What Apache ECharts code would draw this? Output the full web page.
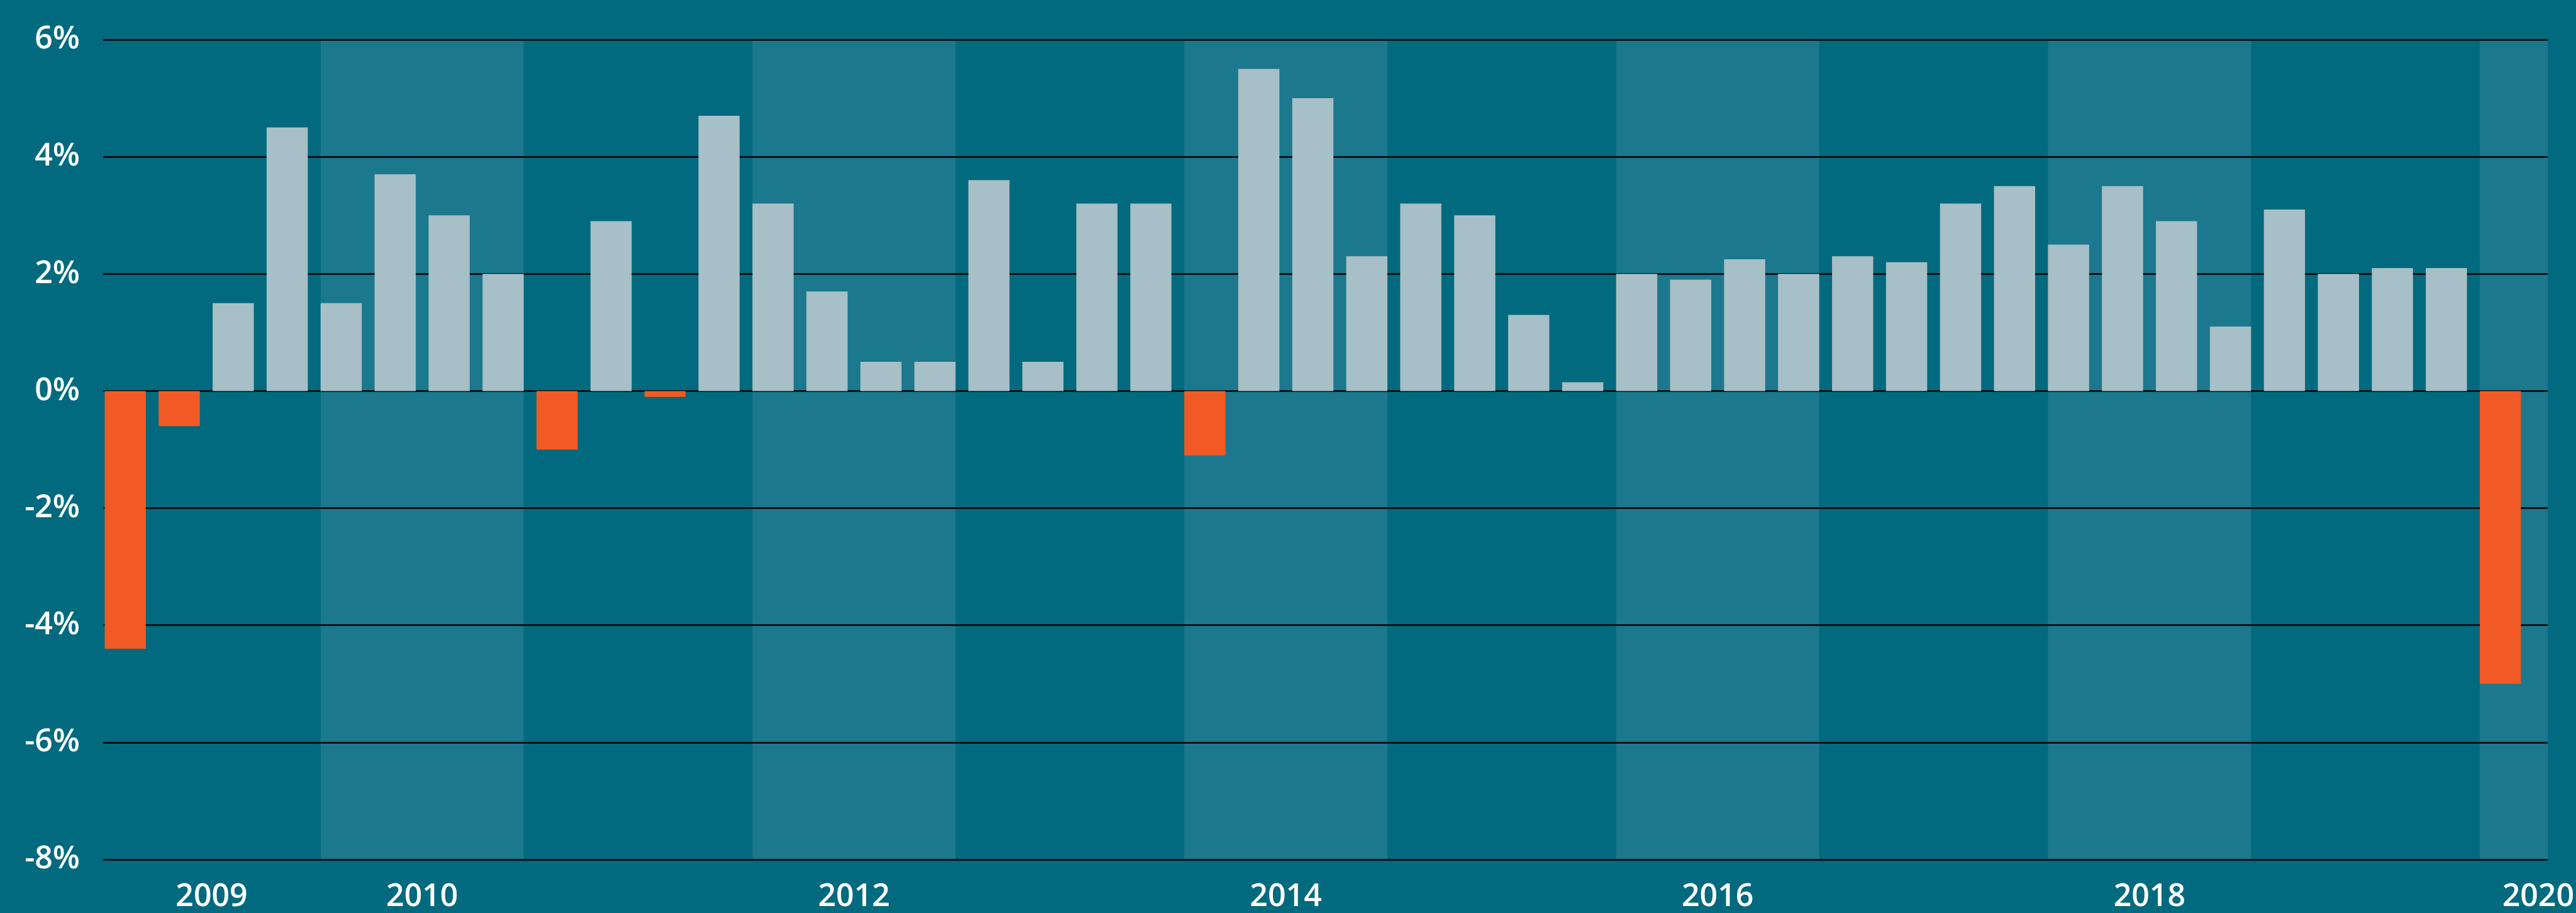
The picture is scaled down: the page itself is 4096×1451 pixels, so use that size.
<!DOCTYPE html>
<html>
<head>
<meta charset="utf-8">
<script src="https://cdn.jsdelivr.net/npm/echarts@6/dist/echarts.min.js"></script>
<style>
  html, body { margin: 0; padding: 0; background: #016a7e; }
  #chart { width: 4096px; height: 1451px; }
</style>
</head>
<body>
<div id="chart"></div>
<script>
// Quarterly growth, 2009 Q1 .. 2020 Q1 (annualized, %)
const quarters = [
  '2009 Q1', '2009 Q2', '2009 Q3', '2009 Q4',
  '2010 Q1', '2010 Q2', '2010 Q3', '2010 Q4',
  '2011 Q1', '2011 Q2', '2011 Q3', '2011 Q4',
  '2012 Q1', '2012 Q2', '2012 Q3', '2012 Q4',
  '2013 Q1', '2013 Q2', '2013 Q3', '2013 Q4',
  '2014 Q1', '2014 Q2', '2014 Q3', '2014 Q4',
  '2015 Q1', '2015 Q2', '2015 Q3', '2015 Q4',
  '2016 Q1', '2016 Q2', '2016 Q3', '2016 Q4',
  '2017 Q1', '2017 Q2', '2017 Q3', '2017 Q4',
  '2018 Q1', '2018 Q2', '2018 Q3', '2018 Q4',
  '2019 Q1', '2019 Q2', '2019 Q3', '2019 Q4',
  '2020 Q1'
]
const growth = [
  -4.4, -0.6, 1.5, 4.5,
  1.5, 3.7, 3.0, 2.0,
  -1.0, 2.9, -0.1, 4.7,
  3.2, 1.7, 0.5, 0.5,
  3.6, 0.5, 3.2, 3.2,
  -1.1, 5.5, 5.0, 2.3,
  3.2, 3.0, 1.3, 0.15,
  2.0, 1.9, 2.25, 2.0,
  2.3, 2.2, 3.2, 3.5,
  2.5, 3.5, 2.9, 1.1,
  3.1, 2.0, 2.1, 2.1,
  -5.0
]
// years drawn with the lighter background band
const bandYears = ['2010', '2012', '2014', '2016', '2018', '2020']
// year labels along the bottom and where they sit (in quarter-index units)
const yearLabels = ['2009', '2010', '2012', '2014', '2016', '2018', '2020']
const yearLabelPos = [1.6, 5.5, 13.5, 21.5, 29.5, 37.5, 44.7]
const yTicks = [-8, -6, -4, -2, 0, 2, 4, 6]

const W = 4096
const grid = { left: 164, right: 44, top: 63, bottom: 85 }
const xMin = -0.41
const xMax = 44.88
const barShare = 0.7625 // bar width as a share of one quarter
const pitch = (W - grid.left - grid.right) / (xMax - xMin)
const half = barShare / 2

const font = '"Open Sans", "Noto Sans", sans-serif'

// light band from the left edge of Q1's bar to the right edge of Q4's bar
const bands = bandYears.map(function (y) {
  const first = quarters.indexOf(y + ' Q1')
  let last = first
  while (last + 1 < quarters.length && quarters[last + 1].slice(0, 4) === y) last++
  const end = (last - first === 3) ? last + half : xMax
  return [{ xAxis: first - half }, { xAxis: end }]
})

const points = growth.map(function (v, i) {
  return {
    value: [i, v],
    itemStyle: { color: v < 0 ? '#f15a24' : '#a7bfc6' }
  }
})

const chart = echarts.init(document.getElementById('chart'), null, { renderer: 'canvas' })
chart.setOption({
  backgroundColor: '#016a7e',
  animation: false,
  grid: grid,
  xAxis: {
    type: 'value',
    min: xMin,
    max: xMax,
    axisLine: { show: false },
    axisTick: { show: false },
    splitLine: { show: false },
    axisLabel: {
      customValues: yearLabelPos,
      formatter: function (v) {
        const k = yearLabelPos.indexOf(v)
        return k >= 0 ? yearLabels[k] : ''
      },
      color: '#ffffff',
      fontFamily: font,
      fontWeight: 600,
      fontSize: 50,
      verticalAlign: 'middle',
      margin: 60
    }
  },
  yAxis: {
    type: 'value',
    z: 1.5,
    min: yTicks[0],
    max: yTicks[yTicks.length - 1],
    interval: 2,
    axisLine: { show: false },
    axisTick: { show: false },
    axisLabel: {
      formatter: '{value}%',
      color: '#ffffff',
      fontFamily: font,
      fontWeight: 600,
      fontSize: 50,
      margin: 37
    },
    splitLine: { lineStyle: { color: '#000000', width: 2.5 } }
  },
  series: [{
    type: 'bar',
    z: 2,
    barWidth: pitch * barShare,
    data: points,
    markArea: {
      silent: true,
      z: 1,
      itemStyle: { color: '#1c788d' },
      label: { show: false },
      data: bands
    }
  }]
})
</script>
</body>
</html>
